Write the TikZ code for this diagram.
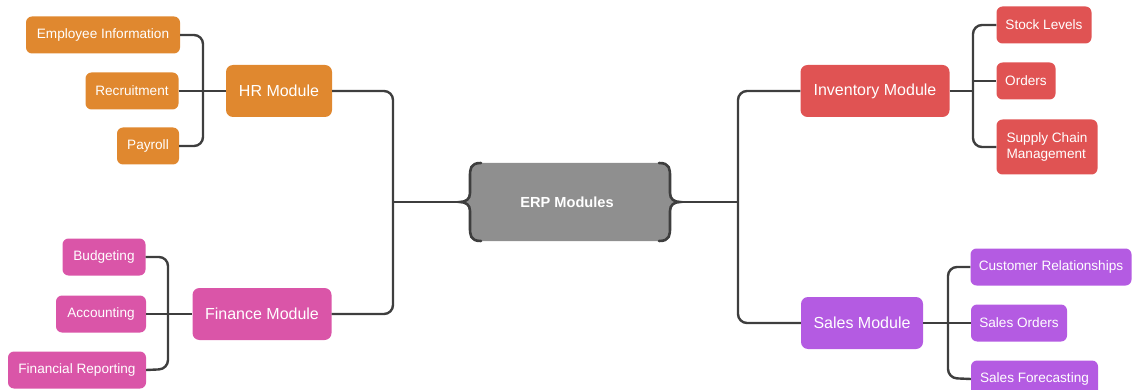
\documentclass[tikz,border=0pt]{standalone}
\usepackage{fontspec}
\setmainfont{Liberation Sans}
\definecolor{hrc}{HTML}{E0882F}
\definecolor{finc}{HTML}{DA55A8}
\definecolor{invc}{HTML}{E05353}
\definecolor{salc}{HTML}{B45BE2}
\definecolor{hubc}{HTML}{8F8F8F}
\definecolor{linec}{HTML}{3E3E3E}
\tikzset{
  x=1pt, y=-1pt,
  leaf/.style={rounded corners=6pt, inner sep=0pt, text=white, minimum height=37pt,
    font=\fontsize{13.6}{15}\selectfont},
  module/.style={rounded corners=7pt, inner sep=0pt, text=white, minimum height=52pt,
    font=\fontsize{16}{18}\selectfont},
  wire/.style={draw=linec, line width=2.4pt, rounded corners=9pt},
}
\begin{document}
\begin{tikzpicture}
\useasboundingbox (0,0) rectangle (1132,390);

% central hub with brace-shaped sides
\fill[hubc] (480,163) -- (660,163) .. controls (670,163) and (670,169) .. (670,177)
  -- (670,193) .. controls (670,199) and (674,202) .. (678,202)
  .. controls (674,202) and (670,205) .. (670,211) -- (670,227)
  .. controls (670,235) and (670,241) .. (660,241) -- (480,241)
  .. controls (470,241) and (470,235) .. (470,227) -- (470,211)
  .. controls (470,205) and (466,202) .. (462,202)
  .. controls (466,202) and (470,199) .. (470,193) -- (470,177)
  .. controls (470,169) and (470,163) .. (480,163) -- cycle;
\draw[linec, line width=2.6pt, line cap=round]
  (481,163) .. controls (470,163) and (470,169) .. (470,177) -- (470,193)
  .. controls (470,199) and (466,202) .. (460,202)
  .. controls (466,202) and (470,205) .. (470,211) -- (470,227)
  .. controls (470,235) and (470,241) .. (481,241);
\draw[linec, line width=2.6pt, line cap=round]
  (659,163) .. controls (670,163) and (670,169) .. (670,177) -- (670,193)
  .. controls (670,199) and (674,202) .. (680,202)
  .. controls (674,202) and (670,205) .. (670,211) -- (670,227)
  .. controls (670,235) and (670,241) .. (659,241);
\node[text=white, font=\bfseries\fontsize{14.6}{18}\selectfont] (erp) at (567,202) {ERP Modules};
\coordinate (erpL) at (460,202);
\coordinate (erpR) at (680,202);

% modules
\node[module, fill=hrc, minimum width=106pt] (hr) at (279,91) {HR Module};
\node[module, fill=finc, minimum width=139pt] (fin) at (262,314) {Finance Module};
\node[module, fill=invc, minimum width=149pt] (inv) at (875,91) {Inventory Module};
\node[module, fill=salc, minimum width=122pt] (sal) at (862,323) {Sales Module};

% HR leaves
\node[leaf, fill=hrc, minimum width=154pt] (emp) at (103,35) {Employee Information};
\node[leaf, fill=hrc, minimum width=93pt] (rec) at (132,91) {Recruitment};
\node[leaf, fill=hrc, minimum width=62pt] (pay) at (148,146) {Payroll};

% Finance leaves
\node[leaf, fill=finc, minimum width=83pt] (bud) at (104,257) {Budgeting};
\node[leaf, fill=finc, minimum width=90pt] (acc) at (101,314) {Accounting};
\node[leaf, fill=finc, minimum width=138pt] (rep) at (77,370) {Financial Reporting};

% Inventory leaves
\node[leaf, fill=invc, minimum width=95pt] (stk) at (1044,25) {Stock Levels};
\node[leaf, fill=invc, minimum width=59pt] (ord) at (1026,81) {Orders};
\node[leaf, fill=invc, minimum width=101pt, minimum height=55pt, align=left,
  font=\fontsize{13.6}{16}\selectfont] (sup) at (1047,147) {Supply Chain\\Management};

% Sales leaves
\node[leaf, fill=salc, minimum width=161pt] (cus) at (1051,267) {Customer Relationships};
\node[leaf, fill=salc, minimum width=96pt] (sor) at (1019,323) {Sales Orders};
\node[leaf, fill=salc, minimum width=127pt] (sfc) at (1034.5,379) {Sales Forecasting};

% trunk lines from the hub
\draw[wire] (erpL) -- (393,202);
\draw[wire] (hr.east) -- (393,91) -- (393,314) -- (fin.east);
\draw[wire] (erpR) -- (738,202);
\draw[wire] (inv.west) -- (738,91) -- (738,323) -- (sal.west);

% HR branch
\draw[wire] (emp.east) -- (203,35) -- (203,146) -- (pay.east);
\draw[wire] (rec.east) -- (hr.west);

% Finance branch
\draw[wire] (bud.east) -- (168,257) -- (168,369) -- (rep.east);
\draw[wire] (acc.east) -- (fin.west);

% Inventory branch
\draw[wire] (stk.west) -- (973,25) -- (973,147) -- (sup.west);
\draw[wire] (inv.east) -- (973,91);
\draw[wire] (973,81) -- (ord.west);

% Sales branch
\draw[wire] (cus.west) -- (948,267) -- (948,378) -- (sfc.west);
\draw[wire] (sal.east) -- (sor.west);
\end{tikzpicture}
\end{document}
